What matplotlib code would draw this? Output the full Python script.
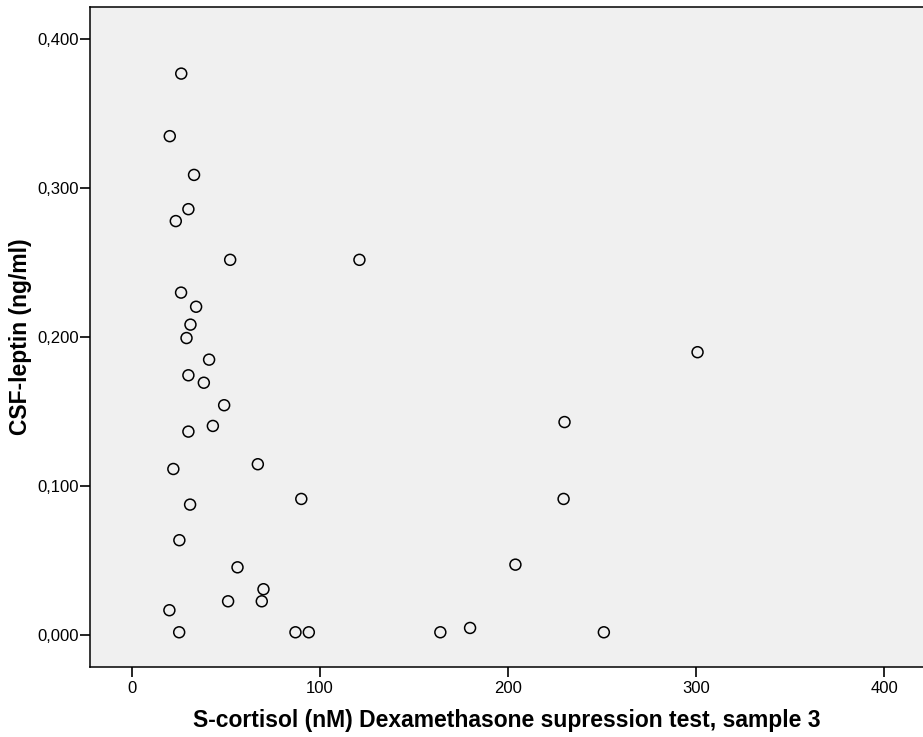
import matplotlib
matplotlib.use("Agg")
import matplotlib.pyplot as plt
from matplotlib.ticker import FuncFormatter

# S-cortisol (nM) vs CSF-leptin (ng/ml)
cortisol = [26.3, 20.2, 33.1, 30.1, 23.4, 52.3, 121.0,
            26.2, 34.2, 31.2, 29.1, 41.1, 300.7, 30.1, 38.3, 49.1,
            230.0, 43.1, 30.1, 67.0, 22.1, 90.1, 229.5, 31.0, 25.3,
            203.9, 56.2, 70.0, 51.2, 69.1, 20.0,
            25.2, 87.0, 94.1, 164.0, 179.8, 250.9]
leptin = [0.377, 0.335, 0.309, 0.286, 0.278, 0.252, 0.252,
          0.230, 0.2205, 0.2085, 0.1995, 0.185, 0.190, 0.1745, 0.1695, 0.1544,
          0.1431, 0.1405, 0.1367, 0.1148, 0.1116, 0.0915, 0.0915, 0.0877, 0.0638,
          0.0474, 0.0456, 0.0309, 0.0228, 0.0228, 0.0168,
          0.002, 0.002, 0.002, 0.002, 0.0049, 0.002]

x_ticks = [0, 100, 200, 300, 400]
y_ticks = [0.0, 0.1, 0.2, 0.3, 0.4]

plt.rcParams["font.family"] = ["Liberation Sans", "DejaVu Sans"]

fig = plt.figure(figsize=(9.23, 7.37), dpi=100)
ax = fig.add_axes([0.0975, 0.0954, 0.9045, 0.8955])
ax.set_facecolor("#f0f0f0")

ax.scatter(cortisol, leptin, s=62, facecolors="none", edgecolors="black",
           linewidths=1.1, zorder=3)

ax.set_xlim(-22.2, 421.5)
ax.set_ylim(-0.0211, 0.4219)
ax.set_xticks(x_ticks)
ax.set_yticks(y_ticks)
ax.yaxis.set_major_formatter(FuncFormatter(lambda v, p: f"{v:.3f}".replace(".", ",")))

ax.tick_params(axis="both", direction="out", length=7.2, width=1.2,
               labelsize=12, color="black")
ax.tick_params(axis="y", pad=1)
ax.tick_params(axis="x", pad=3)
for side in ["left", "bottom", "top"]:
    ax.spines[side].set_linewidth(1.1)
ax.spines["right"].set_visible(False)

fig.text(0.549, (737 - 720) / 737, "S-cortisol (nM) Dexamethasone supression test, sample 3",
         fontsize=16.5, fontweight="bold", ha="center", va="center")
fig.text(21 / 923, (737 - 337) / 737, "CSF-leptin (ng/ml)", rotation=90,
         fontsize=16.5, fontweight="bold", ha="center", va="center")

fig.savefig("out.png", dpi=100)
